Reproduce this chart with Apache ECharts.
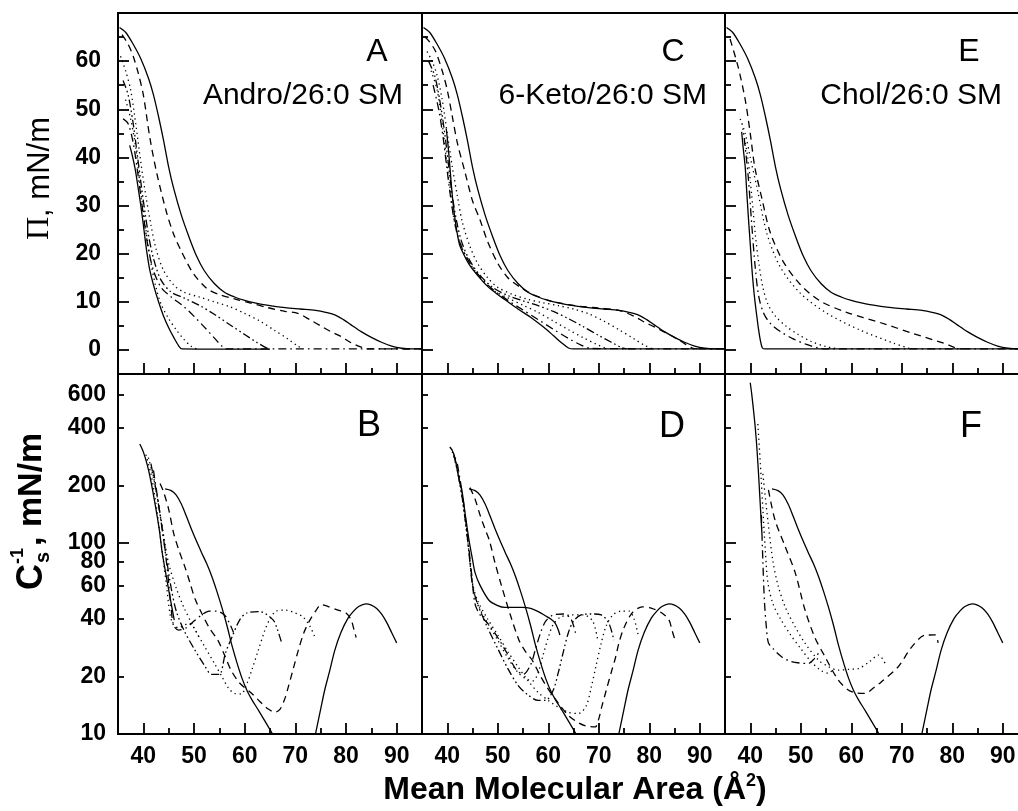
<!DOCTYPE html>
<html><head><meta charset="utf-8">
<script src="https://cdn.jsdelivr.net/npm/echarts@6/dist/echarts.min.js"></script>
<style>html,body{margin:0;padding:0;overflow:hidden;background:#fff}#c{width:1030px;height:811px}</style>
</head><body><div id="c"></div><script>
// ---------- tick values ----------
const X_MAJOR = [40, 50, 60, 70, 80, 90];
const X_MINOR = [45, 55, 65, 75, 85];
const PI_MAJOR = [0, 10, 20, 30, 40, 50, 60];
const PI_MINOR = [5, 15, 25, 35, 45, 55, 65];
const CS_LABELS = [10, 20, 40, 60, 80, 100, 200, 400, 600];
const CS_MAJOR = [10, 100];
const CS_MINOR = [20, 40, 60, 80, 200, 400, 600];

// ---------- isotherms (area A^2, pressure mN/m) ----------
const SM_ISO = [[35.3,67],[36.5,66],[38,63.5],[39.5,60.5],[41,56.5],[42,53],[43,48.5],[44,43.5],[45,38],[46,33.5],[47.5,28],[49,23.5],[50.5,19.5],[52,16.5],[54,13.8],[56,12],[58,11],[60,10.3],[62,9.8],[65,9.2],[68,8.8],[71,8.5],[74,8.2],[76,7.8],[78,7.2],[79.5,6.3],[81,5.2],[83,3.8],[85,2.6],[87,1.6],[89,0.8],[91,0.35],[93,0.2],[95,0.2]];

const A_STEROL = [[37.3,42.5],[37.8,40.5],[38.4,37.5],[39,33.5],[39.5,30],[40,26],[40.6,21],[41.2,17],[42,13.5],[43,10],[44,7],[45,4.6],[46,2.6],[47,0.8],[47.6,0.2],[55,0.15],[65,0.15]];
const A_DASH = [[35.8,65.5],[37,63.5],[38,61],[39,57.5],[40,53],[41.3,44],[42.7,36.5],[44.6,28.5],[46,24],[47.5,20.5],[49.8,16],[52.5,12.8],[55,11.5],[58,10.6],[61,9.8],[64.5,8.8],[68,8],[70.5,7.6],[73,6.2],[75,5],[77,3.8],[79,2.8],[81,1.5],[83,0.6],[84.5,0.2],[95,0.2]];
const A_DOT1 = [[35.5,61],[36.5,58],[37.5,54],[38.5,47],[39.5,39],[40.5,32],[41.5,26],[42.5,21],[44,16.5],[46,13.5],[48,12],[51,11],[54,10],[57,9],[60,7.6],[63,6],[66,4],[68.5,2.3],[70.5,0.8],[71.5,0.2]];
const A_DADODO = [[36,56],[37,53],[38,47],[39,39],[40,31],[41,24],[42,19],[43.5,14.5],[45.5,12],[48,10.8],[51,9.3],[54,7.4],[57,5.3],[60,3.2],[62.5,1.5],[64.5,0.3]];
const A_DASHDOT = [[36,48],[37,47],[38,43],[39,36],[40,28],[41,21],[42,16.5],[43.5,13],[45.5,11],[48,9],[50,7],[52,4.8],[54,2.5],[55.5,0.8],[56.5,0.2],[95,0.2]];
const A_DOT2 = [[36.5,52],[37.5,48],[38.5,42],[39.5,33],[40.5,25],[41.5,18],[42.5,13],[43.5,9.5],[45,6.5],[46.5,4.2],[48,2.2],[49.5,0.7],[50.5,0.2]];

const C_STEROL = [[39.8,46],[40.2,42],[40.6,37],[41.1,31],[41.7,26],[42.4,22],[43.2,20],[44.5,17.5],[46,15.5],[48,13.2],[50,11.5],[52,10],[54,8.5],[56.5,6.8],[59,4.8],[61,3],[62.5,1.6],[64,0.4],[65,0.2],[95,0.2]];
const C_DASH = [[35.6,65],[36.5,64],[37.7,62],[39,58],[40,54],[41,48.5],[42,43],[43.5,37],[45,31],[46.5,27],[48,22.5],[50,18],[52,15],[54.5,13],[57,11.5],[60,10.3],[63,9.6],[66,9.1],[70,8.7],[74,8.2],[77,7],[79,5.8],[81,4.8],[83,3.7],[85,2.6],[87,1.3],[88.5,0.4],[90,0.2]];
const C_DOT1 = [[36,62],[37,60],[38,57],[39,52],[40,45],[41,38],[42,32],[43,26.5],[44.5,21.5],[46,18],[48,15],[50,13],[53,11.5],[56,10.5],[59,9.8],[62,9.2],[65,8.5],[68,7.5],[71,6],[74,4.2],[77,2.3],[79,1],[80.5,0.3]];
const C_DADODO = [[36.3,60],[37.5,57],[38.5,52],[39.5,45],[40.3,38],[41,32],[42,26],[43,22],[44.5,18.5],[46.5,15.5],[49,13],[52,11.3],[55,10.2],[58,9.2],[61,8],[64,6.5],[67,4.8],[70,3],[72.5,1.6],[74.5,0.5],[75.5,0.2]];
const C_DOT2 = [[36.8,58],[38,54],[39,47],[39.8,40],[40.5,34],[41.2,28],[42,24],[43,21],[44.5,18],[46.5,15],[49,12.5],[52,10.8],[55,9.3],[58,7.8],[61,6],[64,4.2],[67,2.5],[69.5,1.2],[71.5,0.3]];
const C_DASHDOT = [[37.2,55],[38.3,50],[39.2,44],[39.9,38],[40.5,33],[41.2,28],[42,24],[43,21],[44.5,18],[46.5,15.2],[49,12.6],[52,10.3],[55,8.3],[58,6.3],[61,4.3],[64,2.4],[66.5,1],[68.5,0.3],[95,0.2]];

const E_STEROL = [[38.3,45.3],[38.6,42],[39,38],[39.3,33],[39.6,28],[40,22],[40.3,17.3],[40.6,13.5],[40.9,10.4],[41.3,7],[41.6,4.6],[42,2],[42.4,0.4],[43,0.2],[95,0.2]];
const E_DASH = [[36,64.6],[37.6,58.8],[39,52],[40,45],[40.9,38],[42.3,31.5],[43.9,24.6],[46.5,18.4],[49.9,13.6],[53.8,10.2],[59.1,7.8],[65.7,5.7],[72.3,3.4],[78.3,1.4],[80.5,0.5],[82,0.2]];
const E_DOT1 = [[38,48],[39,45],[40,40],[41.3,33.9],[43.3,24.2],[45.9,17.3],[49.9,11.8],[55.2,7.6],[61.8,4.1],[68.4,1.4],[71.5,0.3]];
const E_DOT2 = [[38.5,46],[39.5,40],[40.3,32],[41,24],[41.7,18],[42.5,13],[43.5,9.5],[45,7],[47,5],[49.5,3.2],[52,1.8],[55,0.7],[57.5,0.2]];
const E_DASHDOT = [[38.8,44],[39.6,36],[40.3,26],[41,17],[41.7,11],[42.7,7.5],[44,5.5],[46,3.8],[48.5,2.3],[51,1.2],[53.5,0.4],[55,0.2],[95,0.2]];

// ---------- compressibility moduli (mN/m) ----------
const SM_CS_LEFT = [[44.3,192],[45.5,188],[46.5,178],[47.5,160],[48.5,138],[49.5,118],[50.5,102],[51.5,89],[52.5,78],[53.5,67],[54.5,56],[55.5,46],[56.5,37],[57.5,29],[58.5,23.5],[59.5,19.5],[60.5,16.8],[61.5,15],[62.5,13.6],[63.5,12.3],[64.5,11.1],[65.5,10],[66,9.5]];
const SM_CS_RIGHT = [[73.8,9.5],[74.3,11],[75,13.5],[75.8,17],[76.7,21],[77.8,27.5],[79,34],[80.4,40.4],[81.5,44],[82.5,46.5],[83.9,48],[85,47.3],[86,45.5],[87,42.5],[88,38.5],[89,34],[90,30]];

const B_STEROL = [[39.3,330],[40,300],[40.8,255],[41.5,210],[42.5,150],[43.2,115],[43.7,90],[44.4,70],[45.1,55],[45.7,45],[46.1,39.5]];
const B_DASH = [[43.3,205],[44,185],[45,150],[46,112],[47,92],[48.2,75],[49.2,62],[50.2,51],[51.5,43],[53,36],[54.7,31],[56,26],[57.3,21.6],[59,18.5],[61.3,16.4],[63,14.8],[64.5,13.6],[66,13],[67,13.5],[68,15.5],[68.6,17.6],[69.5,21.5],[70.6,27.5],[71.7,34],[72.9,39.6],[74,44],[75.1,47.5],[76.5,46.5],[78.4,44.5],[80,43],[81,39.6],[81.6,35],[82,32]];
const B_DOT1 = [[41,280],[42,220],[43,160],[44,110],[45,78],[46.5,58],[48,46],[50,36],[52,29],[54,23.5],[55.5,20],[56.8,17.4],[58,16.3],[59.3,16.2],[60.5,18.5],[61.5,22],[62.7,27.5],[64,35],[65,40],[66.2,44],[68,44.5],[70,43],[71.5,41],[72.8,37],[73.9,32]];
const B_DADODO = [[41.5,260],[42.5,190],[43.5,130],[44.5,85],[45.5,58],[46.5,44],[48,35],[50,28],[52,23],[53.5,20.5],[55,20.5],[56.2,26.5],[57.5,32.2],[59,39.5],[60.4,43],[63,43.7],[65.6,39.6],[66.5,35],[67.3,30]];
const B_DASHDOT = [[42,240],[43,160],[44,105],[44.8,70],[45.5,45],[46,37],[47,35],[48.5,36],[50,39],[51.5,42],[53,44],[54.5,44],[56,42],[57,38],[57.8,34]];
const B_DOT2 = [[40.5,290],[41.5,230],[42.5,160],[43.5,100],[44.5,62],[45.3,42],[46,37],[47,36],[48,37],[49,38],[50,36],[51,32]];

const D_STEROL = [[40.5,318],[41,305],[41.5,280],[42,240],[42.5,205],[42.9,189],[43.5,145],[44.3,104],[45,82],[45.5,70],[46.5,60],[48.3,50],[50,47],[51.4,46],[53,46],[54.8,46],[56.5,45.5],[58.2,43.5],[59.5,41.5],[60.5,40],[61.4,38],[62,35],[62.3,33]];
const D_DASH = [[44.5,195],[45.5,170],[46.5,140],[47.5,118],[48.3,104],[49.5,78],[50.8,59],[52.5,42],[54.2,31],[55.5,27],[56.8,24.4],[58.5,20],[60.1,17],[62,14.5],[64,12.5],[66.1,11.4],[67.5,11],[69.3,10.9],[70,12],[70.6,13.9],[71.5,17],[72.6,21.6],[73.3,25],[74,30],[75,36],[76.6,43],[78.6,46.3],[80.5,45.5],[82.5,43],[83.9,39.6],[84.5,35],[85.1,31]];
const D_DOT1 = [[41,300],[42,240],[43,170],[44,105],[45,62],[46,50],[48,40],[50,33],[52,27],[54,22.5],[56,19],[58,16.5],[60,15],[62,13.8],[64,13],[66,12.8],[67.5,14],[68.5,17.5],[69.5,23],[70.5,30],[71.5,37],[72.8,42],[74.5,44],[76,44],[77,40],[77.8,33]];
const D_DADODO = [[41.3,290],[42.3,220],[43.3,150],[44.2,95],[45,60],[46,48],[48,36],[50,28],[52,22],[54,18],[56,16],[58,15],[59.5,15],[61,17],[62,21],[63,27],[64,34],[65,39],[66.5,42],[68.5,42.5],[70.5,42],[72,38],[73,31]];
const D_DOT2 = [[41.6,280],[42.6,200],[43.6,130],[44.5,80],[45.3,55],[46.5,45],[48,38],[50,31],[52,25],[54,21],[55.5,19.5],[57,19],[58,21],[59,26],[60,32],[61,37.5],[62.5,41],[64.5,42],[67,42],[68.8,39],[69.8,31]];
const D_DASHDOT = [[42,260],[43,180],[44,110],[44.8,70],[45.5,48],[46.5,42],[48,38],[50,32],[52,26],[53.5,22],[55,20.5],[56.5,23],[57.5,28],[58.5,34],[59.5,39],[61,42],[63,42.5],[64.5,40],[65.5,33]];

const F_STEROL = [[40,690],[40.3,600],[40.7,480],[41,400],[41.3,318],[41.6,240],[41.9,174],[42.1,140],[42.3,113]];
const F_DASH = [[43.6,190],[44.9,132],[46.9,96],[48.9,70],[50.8,45],[52.8,32],[54.8,25.4],[57.4,19.2],[59.4,17],[61,16.4],[62.7,16.3],[64.5,17.5],[66,18.8],[69.3,22.5],[72,28.6],[74.6,32.9],[76.6,33],[77.2,30]];
const F_DOT1 = [[42.5,230],[43.5,130],[44.5,80],[45.5,60],[46.9,46.4],[48.9,36.4],[50.8,30],[53.5,24.4],[55.5,22.5],[57.4,21.6],[59.5,21.8],[61.4,22],[63.5,23.8],[65.4,25.9],[66.7,23.5]];
const F_DOT2 = [[41.5,420],[42,260],[42.5,150],[43,90],[43.5,62],[44.5,48],[46,40],[48,33],[50,28],[52,24],[54,21.5],[55.5,20.8],[56.5,22]];
const F_DASHDOT = [[42.2,140],[42.5,80],[42.8,50],[43.2,36],[43.6,30],[44.5,28],[46.2,25.4],[48,24],[50,23.5],[51.5,23.4],[52.5,24.5],[53.5,26.4]];

// ---------- text ----------
const PANEL_LETTERS = ['A', 'C', 'E', 'B', 'D', 'F'];
const PANEL_NAMES = ['Andro/26:0 SM', '6-Keto/26:0 SM', 'Chol/26:0 SM'];
const X_TITLE = 'Mean Molecular Area (Å';

// ---------- layout ----------
const SANS = "'Liberation Sans', Arial, sans-serif";
const SERIF = "'Liberation Serif', 'Times New Roman', serif";
const LEFTS = [118, 422, 725], WIDTHS = [304, 303, 303];
const TOPS = [13, 374], HEIGHTS = [361, 360];
const STY = { solid: 'solid', dash: [7, 5], dot: [1.3, 3.6], dashdot: [8, 4, 1.6, 4], dadodo: [8, 3, 1.6, 3, 1.6, 3] };

const PANEL_CURVES = [
  [[SM_ISO,'solid'],[A_DASH,'dash'],[A_DOT1,'dot'],[A_DADODO,'dadodo'],[A_DASHDOT,'dashdot'],[A_DOT2,'dot'],[A_STEROL,'solid']],
  [[SM_ISO,'solid'],[C_DASH,'dash'],[C_DOT1,'dot'],[C_DADODO,'dadodo'],[C_DOT2,'dot'],[C_DASHDOT,'dashdot'],[C_STEROL,'solid']],
  [[SM_ISO,'solid'],[E_DASH,'dash'],[E_DOT1,'dot'],[E_DOT2,'dot'],[E_DASHDOT,'dashdot'],[E_STEROL,'solid']],
  [[SM_CS_LEFT,'solid'],[SM_CS_RIGHT,'solid'],[B_DASH,'dash'],[B_DOT1,'dot'],[B_DADODO,'dadodo'],[B_DASHDOT,'dashdot'],[B_DOT2,'dot'],[B_STEROL,'solid']],
  [[SM_CS_LEFT,'solid'],[SM_CS_RIGHT,'solid'],[D_DASH,'dash'],[D_DOT1,'dot'],[D_DADODO,'dadodo'],[D_DOT2,'dot'],[D_DASHDOT,'dashdot'],[D_STEROL,'solid']],
  [[SM_CS_LEFT,'solid'],[SM_CS_RIGHT,'solid'],[F_DASH,'dash'],[F_DOT1,'dot'],[F_DOT2,'dot'],[F_DASHDOT,'dashdot'],[F_STEROL,'solid']]
];

const grids = [], xAxes = [], yAxes = [], series = [];
const tickStyle = { color: '#000', width: 1.8 };
for (let r = 0; r < 2; r++) {
  for (let c = 0; c < 3; c++) {
    const gi = grids.length;
    grids.push({ left: LEFTS[c], top: TOPS[r], width: WIDTHS[c], height: HEIGHTS[r],
      show: true, borderColor: '#000', borderWidth: 2, backgroundColor: 'transparent',
      containLabel: false, outerBoundsMode: 'none' });
    const xi = xAxes.length;
    xAxes.push({ gridIndex: gi, type: 'value', position: 'bottom', min: 35, max: 95,
      axisLine: { show: true, onZero: false, lineStyle: { color: '#000', width: 2 } },
      axisTick: { show: true, inside: true, length: 11, customValues: X_MAJOR, lineStyle: tickStyle },
      axisLabel: { show: r === 1, customValues: X_MAJOR, margin: 11, color: '#000',
        fontFamily: SANS, fontWeight: 'bold', fontSize: 23 },
      splitLine: { show: false } });
    xAxes.push({ gridIndex: gi, type: 'value', position: 'bottom', min: 35, max: 95,
      axisLine: { show: false, onZero: false },
      axisTick: { show: true, inside: true, length: 6, customValues: X_MINOR, lineStyle: tickStyle },
      axisLabel: { show: false }, splitLine: { show: false } });
    const yi = yAxes.length;
    if (r === 0) {
      yAxes.push({ gridIndex: gi, type: 'value', position: 'left', min: -5, max: 70,
        axisLine: { show: true, onZero: false, lineStyle: { color: '#000', width: 2 } },
        axisTick: { show: true, inside: true, length: 11, customValues: PI_MAJOR, lineStyle: tickStyle },
        axisLabel: { show: c === 0, customValues: PI_MAJOR, margin: 17, color: '#000',
          fontFamily: SANS, fontWeight: 'bold', fontSize: 23 },
        splitLine: { show: false } });
      yAxes.push({ gridIndex: gi, type: 'value', position: 'left', min: -5, max: 70,
        axisLine: { show: false, onZero: false },
        axisTick: { show: true, inside: true, length: 6, customValues: PI_MINOR, lineStyle: tickStyle },
        axisLabel: { show: false }, splitLine: { show: false } });
    } else {
      yAxes.push({ gridIndex: gi, type: 'log', logBase: 10, position: 'left', min: 10, max: 767,
        axisLine: { show: true, onZero: false, lineStyle: { color: '#000', width: 2 } },
        axisTick: { show: true, inside: true, length: 11, customValues: CS_MAJOR, lineStyle: tickStyle },
        axisLabel: { show: c === 0, customValues: CS_LABELS, margin: 12, color: '#000',
          fontFamily: SANS, fontWeight: 'bold', fontSize: 23, formatter: v => String(Math.round(v)) },
        splitLine: { show: false } });
      yAxes.push({ gridIndex: gi, type: 'log', logBase: 10, position: 'left', min: 10, max: 767,
        axisLine: { show: false, onZero: false },
        axisTick: { show: true, inside: true, length: 6, customValues: CS_MINOR, lineStyle: tickStyle },
        axisLabel: { show: false }, splitLine: { show: false } });
    }
    PANEL_CURVES[gi].forEach(([data, sty]) => {
      series.push({ type: 'line', xAxisIndex: xi, yAxisIndex: yi, data: data,
        showSymbol: false, symbol: 'none', smooth: 0.3, clip: true, silent: true, animation: false,
        lineStyle: { color: '#000', width: 1.3, type: STY[sty] } });
    });
  }
}

const graphic = [];
const LETTER_POS = [[377,52],[673,52],[969,52],[369,426],[672,427],[971,427]];
PANEL_LETTERS.forEach((t, i) => graphic.push({ type: 'text', x: LETTER_POS[i][0], y: LETTER_POS[i][1],
  style: { text: t, font: (i < 3 ? '32px ' : '36px ') + SANS, fill: '#000', align: 'center', verticalAlign: 'middle' } }));
const NAME_RIGHT = [403, 707, 1002];
PANEL_NAMES.forEach((t, i) => graphic.push({ type: 'text', x: NAME_RIGHT[i], y: 96,
  style: { text: t, font: '30px ' + SANS, fill: '#000', align: 'right', verticalAlign: 'middle' } }));
graphic.push({ type: 'text', x: 575, y: 790, style: {
  text: '{t|' + X_TITLE + '}{s|2}{t|)}', align: 'center', verticalAlign: 'middle',
  rich: { t: { font: 'bold 32px ' + SANS, fill: '#000', lineHeight: 36 },
          s: { font: 'bold 18px ' + SANS, fill: '#000', verticalAlign: 'top', lineHeight: 36 } } } });
graphic.push({ type: 'group', x: 40, y: 240, rotation: Math.PI / 2, children: [
  { type: 'text', x: 0, y: 0, style: { text: '{p|Π}{t|, mN/m}', align: 'left', verticalAlign: 'middle',
    rich: { p: { font: '32px ' + SERIF, fill: '#000' }, t: { font: '31px ' + SANS, fill: '#000' } } } } ] });
graphic.push({ type: 'group', x: 32, y: 590, rotation: Math.PI / 2, children: [
  { type: 'text', x: 0, y: 0, style: { text: 'C', font: 'bold 36px ' + SANS, fill: '#000', align: 'left', verticalAlign: 'middle' } },
  { type: 'text', x: 27, y: 11, style: { text: 's', font: 'bold 20px ' + SANS, fill: '#000', align: 'left', verticalAlign: 'middle' } },
  { type: 'text', x: 26, y: -14, style: { text: '-1', font: 'bold 18px ' + SANS, fill: '#000', align: 'left', verticalAlign: 'middle' } },
  { type: 'text', x: 44, y: 0, style: { text: ', mN/m', font: 'bold 34px ' + SANS, fill: '#000', align: 'left', verticalAlign: 'middle' } } ] });

const chart = echarts.init(document.getElementById('c'), null, { renderer: 'canvas' });
chart.setOption({ animation: false, backgroundColor: '#fff', grid: grids, xAxis: xAxes, yAxis: yAxes, series: series, graphic: graphic });
</script></body></html>
